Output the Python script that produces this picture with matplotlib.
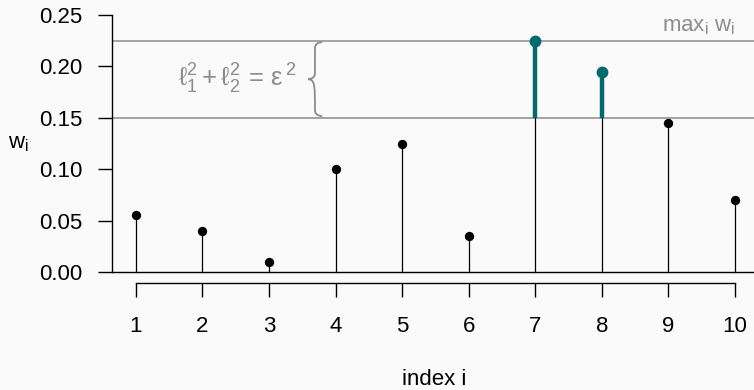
import numpy as np
import matplotlib.pyplot as plt
from matplotlib.path import Path
from matplotlib.patches import PathPatch

plt.rcParams['font.family'] = ['Liberation Sans', 'DejaVu Sans']
plt.rcParams['mathtext.fontset'] = 'custom'
plt.rcParams['mathtext.rm'] = 'Liberation Sans'
plt.rcParams['mathtext.it'] = 'Liberation Sans'
plt.rcParams['mathtext.default'] = 'regular'

# data
idx = [1, 2, 3, 4, 5, 6, 7, 8, 9, 10]
w = [0.055, 0.04, 0.01, 0.10, 0.125, 0.035, 0.225, 0.195, 0.145, 0.07]
thresh = 0.15
yticks = [0.00, 0.05, 0.10, 0.15, 0.20, 0.25]

teal = '#006b6d'
grey = '#8c8c8c'
bg = '#fafafa'
fs = 16

fig = plt.figure(figsize=(7.54, 3.9), dpi=100, facecolor=bg)
ax = fig.add_axes([0.1485, 0.2751, 0.858, 0.7138])
ax.set_facecolor(bg)
ax.set_xlim(0.64, 10.36)
ax.set_ylim(-0.0104, 0.2604)

wmax = max(w)
ax.axhline(wmax, color=grey, lw=1.1, zorder=1)
ax.axhline(thresh, color=grey, lw=1.1, zorder=1)
ax.axhline(0, color='black', lw=1.0, zorder=1)

for i, v in zip(idx, w):
    if v > thresh:
        ax.plot([i, i], [0, thresh], color='black', lw=0.9, zorder=2)
        ax.plot([i, i], [thresh, v], color=teal, lw=3.2, zorder=3,
                solid_capstyle='butt')
        ax.plot(i, v, 'o', color=teal, ms=7.5, zorder=4)
    else:
        ax.plot([i, i], [0, v], color='black', lw=0.9, zorder=2)
        ax.plot(i, v, 'o', color='black', ms=5.7, zorder=4)

# axes in base-R style
for s in ['top', 'right']:
    ax.spines[s].set_visible(False)
ax.spines['left'].set_bounds(0, 0.25)
ax.spines['bottom'].set_bounds(1, 10)
ax.spines['left'].set_linewidth(1.0)
ax.spines['bottom'].set_linewidth(1.0)
ax.set_yticks(yticks)
ax.set_yticklabels([f'{t:.2f}' for t in yticks])
ax.set_xticks(idx)
ax.tick_params(axis='y', direction='out', length=10, width=1.0, pad=11, labelsize=fs)
ax.tick_params(axis='x', direction='out', length=10, width=1.0, pad=14, labelsize=fs)

fig.text(0.5754, 0.012, 'index i', ha='center', va='baseline', fontsize=fs)
fig.text(0.025, 0.6205, '$w_i$', ha='center', va='baseline', fontsize=fs)

# annotations
ax.text(10.0, wmax + 0.004, r'$max_i\ w_i$', color=grey, ha='right', va='bottom', fontsize=fs)
ax.text(2.525, 0.1803, r'$ℓ_1^2 + ℓ_2^2 \,=\, ε^{\,2}$', color=grey,
        ha='center', va='baseline', fontsize=18.5)

# curly brace between the two lines
top = wmax - 0.0015
bot = thresh + 0.0015
mid = (top + bot) / 2
xo, xm, xt = 3.80, 3.69, 3.585
dy = 0.006
verts = [(xo, top), (xm, top), (xm, top - dy),
         (xm, mid + dy),
         (xm, mid), (xt, mid), (xt, mid),
         (xt, mid), (xm, mid), (xm, mid - dy),
         (xm, bot + dy),
         (xm, bot), (xo, bot), (xo, bot)]
codes = [Path.MOVETO, Path.CURVE3, Path.CURVE3,
         Path.LINETO,
         Path.CURVE4, Path.CURVE4, Path.CURVE4,
         Path.MOVETO, Path.CURVE4, Path.CURVE4,
         Path.LINETO,
         Path.CURVE4, Path.CURVE4, Path.CURVE4]
ax.add_patch(PathPatch(Path(verts, codes), fc='none', ec=grey, lw=1.3, zorder=2))

fig.savefig('out.png', dpi=100, facecolor=bg)
